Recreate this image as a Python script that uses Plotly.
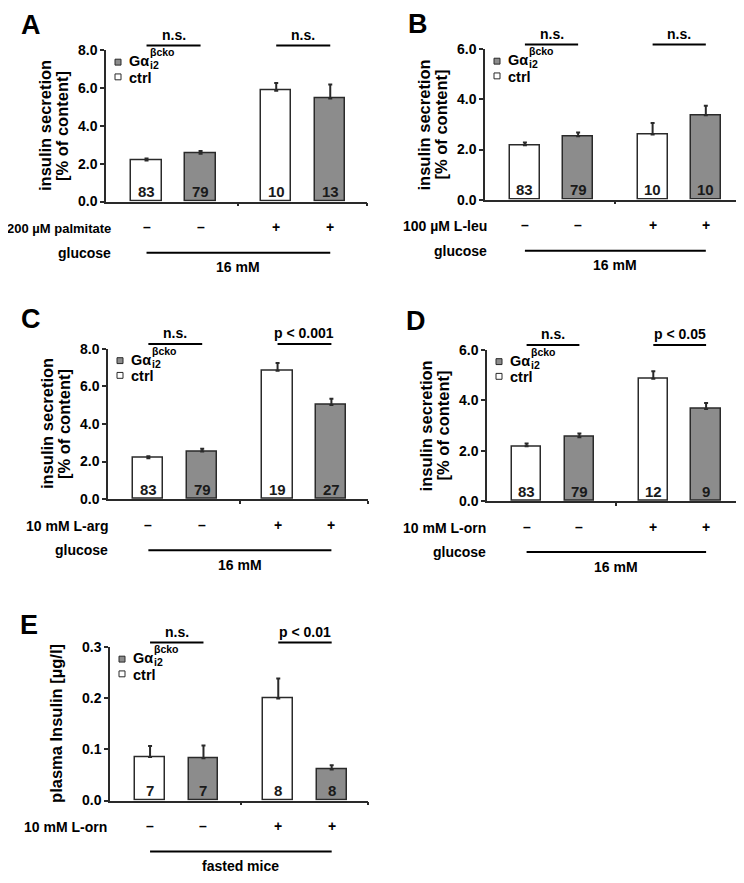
import plotly.graph_objects as go

W, H = 744, 883
OFF = 8  # default page body margin: the figure is drawn 8 px right / down in the window
FONT = "Liberation Sans, Arial, sans-serif"
DARK = "#2a2a2a"
GRAY = "#8c8c8c"

# ---------------- data ----------------
positions = [1, 2, 3.4, 4.4]           # ctrl -, cko -, ctrl +, cko +
genotype = ["ctrl", "cko", "ctrl", "cko"]
signs = ["–", "–", "+", "+"]

a_means = [2.17, 2.53, 5.87, 5.45]
a_errs = [0.11, 0.15, 0.40, 0.75]
a_ns = [83, 79, 10, 13]

b_means = [2.17, 2.53, 2.60, 3.37]
b_errs = [0.11, 0.15, 0.46, 0.38]
b_ns = [83, 79, 10, 10]

c_means = [2.17, 2.53, 6.83, 5.01]
c_errs = [0.11, 0.15, 0.42, 0.33]
c_ns = [83, 79, 19, 27]

d_means = [2.17, 2.53, 4.85, 3.65]
d_errs = [0.11, 0.15, 0.30, 0.24]
d_ns = [83, 79, 12, 9]

e_means = [0.085, 0.083, 0.200, 0.061]
e_errs = [0.022, 0.025, 0.039, 0.008]
e_ns = [7, 7, 8, 8]

panels = [
    dict(letter="A", means=a_means, errs=a_errs, ns=a_ns, ymax=8.0, dtick=2.0,
         treatment="200 µM palmitate", tsize=13, stats=["n.s.", "n.s."], glucose=True,
         base="16 mM", ytitle=["insulin secretion", "[% of content]"],
         box=(106, 43, 367, 197), letter_xy=(31, 17), label_right=112),
    dict(letter="B", means=b_means, errs=b_errs, ns=b_ns, ymax=6.0, dtick=2.0,
         treatment="100 µM L-leu", tsize=14, stats=["n.s.", "n.s."], glucose=True,
         base="16 mM", ytitle=["insulin secretion", "[% of content]"],
         box=(485, 42, 742, 195), letter_xy=(418, 16), label_right=488),
    dict(letter="C", means=c_means, errs=c_errs, ns=c_ns, ymax=8.0, dtick=2.0,
         treatment="10 mM L-arg", tsize=14, stats=["n.s.", "p < 0.001"], glucose=True,
         base="16 mM", ytitle=["insulin secretion", "[% of content]"],
         box=(108, 347, 368, 500), letter_xy=(31, 317), label_right=109),
    dict(letter="D", means=d_means, errs=d_errs, ns=d_ns, ymax=6.0, dtick=2.0,
         treatment="10 mM L-orn", tsize=14, stats=["n.s.", "p < 0.05"], glucose=True,
         base="16 mM", ytitle=["insulin secretion", "[% of content]"],
         box=(487, 348, 742, 502), letter_xy=(416, 319), label_right=487),
    dict(letter="E", means=e_means, errs=e_errs, ns=e_ns, ymax=0.3, dtick=0.1,
         treatment="10 mM L-orn", tsize=14, stats=["n.s.", "p < 0.01"], glucose=False,
         base="fasted mice", ytitle=["plasma Insulin [µg/l]"],
         box=(110, 651, 368, 807), letter_xy=(29, 628), label_right=108),
]

XR = [0.25, 5.08]


def fx(px):
    return (px - OFF) / W


def fy(py):
    return 1 - (py - OFF) / H


def bold(size, color="black"):
    return dict(family=FONT, size=size, color=color, weight="bold")


def note(text, x, y, size, xanchor="center", xref="paper", angle=0, color="black"):
    return dict(text=text, x=x, y=y, xref=xref, yref="paper", showarrow=False,
                font=bold(size, color), xanchor=xanchor, yanchor="middle",
                textangle=angle, borderpad=0)


fig = go.Figure()
annotations = []
shapes = []

for i, p in enumerate(panels):
    n = "" if i == 0 else str(i + 1)
    xa, ya = "x" + n, "y" + n
    left, top, right, bottom = p["box"]
    colors = ["white" if g == "ctrl" else GRAY for g in genotype]
    fig.add_trace(go.Bar(
        x=positions, y=p["means"], width=0.56,
        marker=dict(color=colors, line=dict(color=DARK, width=1.5)),
        error_y=dict(type="data", array=p["errs"], arrayminus=[0] * 4,
                     symmetric=False, color=DARK, thickness=2, width=2),
        xaxis=xa, yaxis=ya, showlegend=False, hoverinfo="skip"))

    fig.layout["xaxis" + n] = dict(
        domain=[fx(left), fx(right)], range=XR, anchor=ya,
        showline=True, linecolor=DARK, linewidth=1.5,
        ticks="outside", ticklen=3, tickwidth=1.5, tickcolor=DARK,
        tickvals=[2.7, XR[1]], showticklabels=False, showgrid=False, zeroline=False)
    fig.layout["yaxis" + n] = dict(
        domain=[fy(bottom), fy(top)], range=[0, p["ymax"]], anchor=xa,
        showline=True, linecolor=DARK, linewidth=1.5,
        ticks="outside", ticklen=4, tickwidth=1.5, tickcolor=DARK,
        dtick=p["dtick"], tick0=0, tickformat=".1f",
        tickfont=bold(14), showgrid=False, zeroline=False)

    # panel letter
    lx, ly = p["letter_xy"]
    annotations.append(note(p["letter"], fx(lx), fy(ly), 27))

    # y title
    if len(p["ytitle"]) == 2:
        for k, t in enumerate(p["ytitle"]):
            annotations.append(note(t, fx(left - 61 + 17 * k), fy((top + bottom) / 2), 16.5, angle=-90))
    else:
        annotations.append(note(p["ytitle"][0], fx(left - 54), fy((top + bottom) / 2), 16.5, angle=-90))

    # legend
    shapes.append(dict(type="rect", xref="paper", yref="paper",
                       x0=fx(left + 9), x1=fx(left + 15), y0=fy(top + 9), y1=fy(top + 15),
                       fillcolor=GRAY, line=dict(color=DARK, width=1)))
    shapes.append(dict(type="rect", xref="paper", yref="paper",
                       x0=fx(left + 9), x1=fx(left + 15), y0=fy(top + 24), y1=fy(top + 30),
                       fillcolor="white", line=dict(color=DARK, width=1)))
    annotations.append(note("Gα", fx(left + 22), fy(top + 11), 14.5, xanchor="left"))
    annotations.append(note("βcko", fx(left + 43), fy(top + 2), 10.5, xanchor="left"))
    annotations.append(note("i2", fx(left + 43), fy(top + 15), 10.5, xanchor="left"))
    annotations.append(note("ctrl", fx(left + 22), fy(top + 28), 14.5, xanchor="left"))

    # n labels inside bars
    for xp, nv in zip(positions, p["ns"]):
        annotations.append(note(str(nv), xp, fy(bottom - 10), 15, xref=xa, color="#1a1a1a"))

    # significance lines
    for k, st in enumerate(p["stats"]):
        x0, x1 = positions[2 * k], positions[2 * k + 1]
        shapes.append(dict(type="line", xref=xa, yref="paper", x0=x0, x1=x1,
                           y0=fy(top - 5), y1=fy(top - 5), line=dict(color="black", width=2)))
        annotations.append(note(st, (x0 + x1) / 2, fy(top - 16), 14, xref=xa))

    # treatment row
    annotations.append(note(p["treatment"], fx(p["label_right"]), fy(bottom + 27), p["tsize"], xanchor="right"))
    for xp, s in zip(positions, signs):
        annotations.append(note(s, xp, fy(bottom + 26), 14, xref=xa))

    # glucose / base row
    if p["glucose"]:
        annotations.append(note("glucose", fx(p["label_right"]), fy(bottom + 52), 14, xanchor="right"))
    shapes.append(dict(type="line", xref=xa, yref="paper", x0=positions[0], x1=positions[-1],
                       y0=fy(bottom + 52), y1=fy(bottom + 52), line=dict(color="black", width=2)))
    annotations.append(note(p["base"], (positions[0] + positions[-1]) / 2, fy(bottom + 67), 14, xref=xa))

fig.update_layout(
    width=W, height=H, margin=dict(l=0, r=0, t=0, b=0),
    paper_bgcolor="white", plot_bgcolor="white",
    annotations=annotations, shapes=shapes, bargap=0,
    font=dict(family=FONT),
)

fig.write_html("out.html", config={"displayModeBar": False})
